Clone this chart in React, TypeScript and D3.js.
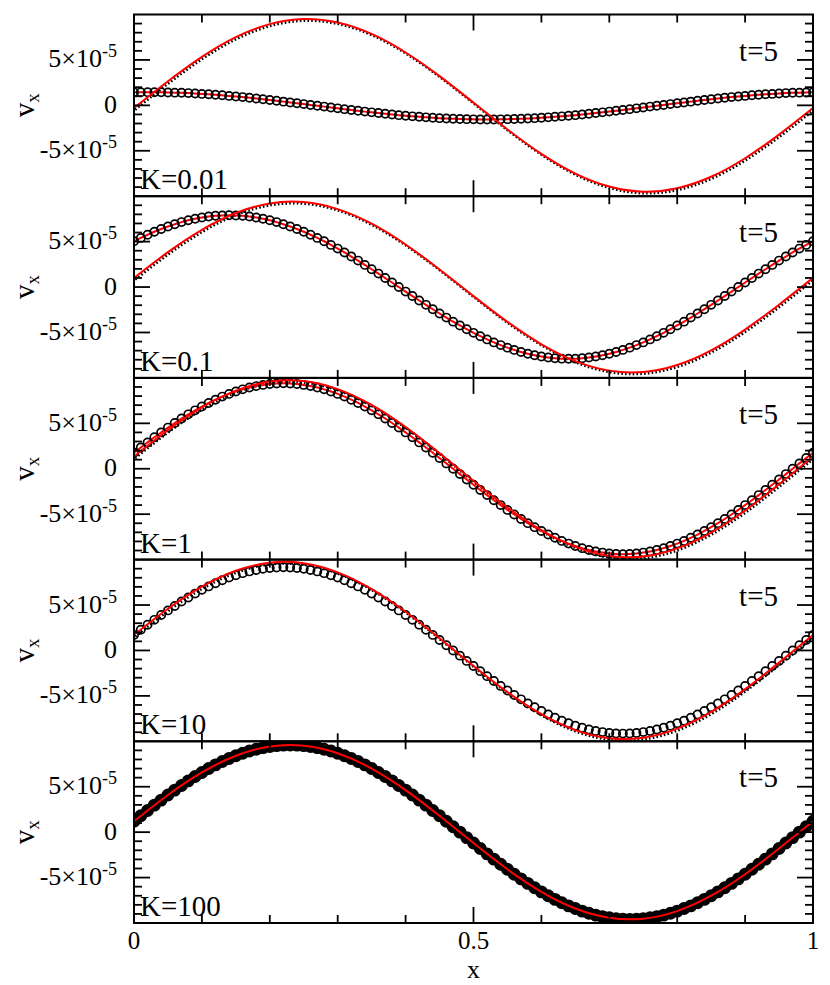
import React from "react";
import * as d3 from "d3";

// values of v_x in units of 1e-5, sampled along x
const xSamples = d3.range(101).map(i => i / 100);
const xRefSamples = d3.range(21).map(i => i / 20);

const kLabels = ["K=0.01", "K=0.1", "K=1", "K=10", "K=100"];
const timeLabel = "t=5";

const circlesK001 = [
  1.44, 1.45, 1.45, 1.45, 1.44, 1.42, 1.40, 1.38, 1.35, 1.31,
  1.26, 1.22, 1.16, 1.11, 1.04, 0.98, 0.91, 0.83, 0.75, 0.67,
  0.59, 0.50, 0.41, 0.32, 0.23, 0.14, 0.04, -0.05, -0.14, -0.24,
  -0.33, -0.42, -0.51, -0.60, -0.69, -0.77, -0.85, -0.93, -1.01, -1.08,
  -1.14, -1.21, -1.26, -1.32, -1.36, -1.41, -1.45, -1.48, -1.50, -1.52,
  -1.54, -1.55, -1.55, -1.55, -1.54, -1.52, -1.50, -1.48, -1.45, -1.41,
  -1.36, -1.32, -1.26, -1.21, -1.14, -1.08, -1.01, -0.93, -0.85, -0.77,
  -0.69, -0.60, -0.51, -0.42, -0.33, -0.24, -0.14, -0.05, 0.04, 0.14,
  0.23, 0.32, 0.41, 0.50, 0.59, 0.67, 0.75, 0.83, 0.91, 0.98,
  1.04, 1.11, 1.16, 1.22, 1.26, 1.31, 1.35, 1.38, 1.40, 1.42,
  1.44,
];
const circlesK01 = [
  5.04, 5.41, 5.76, 6.09, 6.39, 6.67, 6.92, 7.15, 7.35, 7.51,
  7.65, 7.76, 7.84, 7.88, 7.90, 7.88, 7.84, 7.76, 7.65, 7.51,
  7.35, 7.15, 6.92, 6.67, 6.39, 6.09, 5.76, 5.41, 5.04, 4.64,
  4.23, 3.81, 3.36, 2.91, 2.44, 1.96, 1.48, 0.99, 0.50, 0,
  -0.50, -0.99, -1.48, -1.96, -2.44, -2.91, -3.36, -3.81, -4.23, -4.64,
  -5.04, -5.41, -5.76, -6.09, -6.39, -6.67, -6.92, -7.15, -7.35, -7.51,
  -7.65, -7.76, -7.84, -7.88, -7.90, -7.88, -7.84, -7.76, -7.65, -7.51,
  -7.35, -7.15, -6.92, -6.67, -6.39, -6.09, -5.76, -5.41, -5.04, -4.64,
  -4.23, -3.81, -3.36, -2.91, -2.44, -1.96, -1.48, -0.99, -0.50, 0,
  0.50, 0.99, 1.48, 1.96, 2.44, 2.91, 3.36, 3.81, 4.23, 4.64,
  5.04,
];
const circlesK1 = [
  1.76, 2.34, 2.90, 3.46, 4.00, 4.53, 5.04, 5.53, 5.99, 6.43,
  6.85, 7.24, 7.60, 7.94, 8.24, 8.51, 8.74, 8.94, 9.10, 9.23,
  9.33, 9.38, 9.40, 9.38, 9.33, 9.23, 9.10, 8.94, 8.74, 8.51,
  8.24, 7.94, 7.60, 7.24, 6.85, 6.43, 5.99, 5.53, 5.04, 4.53,
  4.00, 3.46, 2.90, 2.34, 1.76, 1.18, 0.59, 0, -0.59, -1.18,
  -1.76, -2.34, -2.90, -3.46, -4.00, -4.53, -5.04, -5.53, -5.99, -6.43,
  -6.85, -7.24, -7.60, -7.94, -8.24, -8.51, -8.74, -8.94, -9.10, -9.23,
  -9.33, -9.38, -9.40, -9.38, -9.33, -9.23, -9.10, -8.94, -8.74, -8.51,
  -8.24, -7.94, -7.60, -7.24, -6.85, -6.43, -5.99, -5.53, -5.04, -4.53,
  -4.00, -3.46, -2.90, -2.34, -1.76, -1.18, -0.59, 0, 0.59, 1.18,
  1.76,
];
const circlesK10 = [
  1.71, 2.28, 2.83, 3.37, 3.90, 4.41, 4.90, 5.38, 5.83, 6.26,
  6.67, 7.05, 7.40, 7.73, 8.02, 8.28, 8.51, 8.70, 8.86, 8.99,
  9.08, 9.13, 9.15, 9.13, 9.08, 8.99, 8.86, 8.70, 8.51, 8.28,
  8.02, 7.73, 7.40, 7.05, 6.67, 6.26, 5.83, 5.38, 4.90, 4.41,
  3.90, 3.37, 2.83, 2.28, 1.71, 1.15, 0.57, 0, -0.57, -1.15,
  -1.71, -2.28, -2.83, -3.37, -3.90, -4.41, -4.90, -5.38, -5.83, -6.26,
  -6.67, -7.05, -7.40, -7.73, -8.02, -8.28, -8.51, -8.70, -8.86, -8.99,
  -9.08, -9.13, -9.15, -9.13, -9.08, -8.99, -8.86, -8.70, -8.51, -8.28,
  -8.02, -7.73, -7.40, -7.05, -6.67, -6.26, -5.83, -5.38, -4.90, -4.41,
  -3.90, -3.37, -2.83, -2.28, -1.71, -1.15, -0.57, 0, 0.57, 1.15,
  1.71,
];
const circlesK100 = [
  1.20, 1.80, 2.39, 2.97, 3.53, 4.09, 4.63, 5.14, 5.64, 6.12,
  6.57, 7.00, 7.40, 7.77, 8.11, 8.41, 8.69, 8.93, 9.13, 9.30,
  9.43, 9.52, 9.58, 9.60, 9.58, 9.52, 9.43, 9.30, 9.13, 8.93,
  8.69, 8.41, 8.11, 7.77, 7.40, 7.00, 6.57, 6.12, 5.64, 5.14,
  4.63, 4.09, 3.53, 2.97, 2.39, 1.80, 1.20, 0.60, 0, -0.60,
  -1.20, -1.80, -2.39, -2.97, -3.53, -4.09, -4.63, -5.14, -5.64, -6.12,
  -6.57, -7.00, -7.40, -7.77, -8.11, -8.41, -8.69, -8.93, -9.13, -9.30,
  -9.43, -9.52, -9.58, -9.60, -9.58, -9.52, -9.43, -9.30, -9.13, -8.93,
  -8.69, -8.41, -8.11, -7.77, -7.40, -7.00, -6.57, -6.12, -5.64, -5.14,
  -4.63, -4.09, -3.53, -2.97, -2.39, -1.80, -1.20, -0.60, 0, 0.60,
  1.20,
];

// reference curves (red over black dots), every 0.05 in x
const refK001 = [-0.30, 2.65, 5.34, 7.51, 8.94, 9.50, 9.12, 7.86, 5.82, 3.22, 0.30, -2.65, -5.34, -7.51, -8.94, -9.50, -9.12, -7.86, -5.82, -3.22, -0.30];
const refK01 = [1.00, 3.84, 6.30, 8.15, 9.20, 9.35, 8.58, 6.97, 4.68, 1.94, -1.00, -3.84, -6.30, -8.15, -9.20, -9.35, -8.58, -6.97, -4.68, -1.94, 1.00];
const refK1 = [1.34, 4.26, 6.76, 8.60, 9.60, 9.66, 8.77, 7.02, 4.59, 1.71, -1.34, -4.26, -6.76, -8.60, -9.60, -9.66, -8.77, -7.02, -4.59, -1.71, 1.34];
const refK10 = [1.71, 4.59, 7.02, 8.77, 9.66, 9.60, 8.60, 6.76, 4.26, 1.34, -1.71, -4.59, -7.02, -8.77, -9.66, -9.60, -8.60, -6.76, -4.26, -1.34, 1.71];
const refK100 = [1.20, 4.09, 6.57, 8.41, 9.43, 9.52, 8.69, 7.00, 4.63, 1.80, -1.20, -4.09, -6.57, -8.41, -9.43, -9.52, -8.69, -7.00, -4.63, -1.80, 1.20];

const circleSeries = [circlesK001, circlesK01, circlesK1, circlesK10, circlesK100];
const refSeries = [refK001, refK01, refK1, refK10, refK100];
const showFitLine = [true, true, true, false, false];

const xTicks = [0, 0.5, 1];
const xTickText = ["0", "0.5", "1"];
const yTicks = [5, 0, -5];
const yTickText = ["5×10", "0", "-5×10"];
const yTickExp = ["-5", "", "-5"];

const W = 830, H = 985;
const left = 134, right = 813, top = 14.5, panelH = 181.7;
const serif = { fontFamily: '"Liberation Serif"' };

const x = d3.scaleLinear().domain([0, 1]).range([left, right]);

const Panel = ({ i }: { i: number }) => {
  const y0 = top + i * panelH;
  const y = d3.scaleLinear().domain([-10, 10]).range([y0 + panelH, y0]);
  const circ = circleSeries[i].map((v, j) => [xSamples[j], v] as [number, number]);
  const ref = refSeries[i].map((v, j) => [xRefSamples[j], v] as [number, number]);
  const line = d3.line<[number, number]>().x(d => x(d[0])).y(d => y(d[1])).curve(d3.curveNatural);
  const minorX = d3.range(0, 11).map(k => k / 10);
  const minorY = d3.range(-9, 10);
  const big = i === 4;
  return (
    <g>
      <defs>
        <clipPath id={`clip${i}`}>
          <rect x={left} y={y0} width={right - left} height={panelH} />
        </clipPath>
      </defs>
      <g clipPath={`url(#clip${i})`}>
        <path d={line(ref) || ""} fill="none" stroke="#000" strokeWidth={2.6}
          strokeDasharray="1.6 2.2" transform="translate(1.2,1.6)" />
        {showFitLine[i] && <path d={line(circ) || ""} fill="none" stroke="red" strokeWidth={2} />}
        {circ.map((d, j) => (
          <circle key={j} cx={x(d[0])} cy={y(d[1])} r={big ? 5.6 : 4.1}
            fill={big ? "#000" : "none"} stroke="#000" strokeWidth={1.7} />
        ))}
        <path d={line(ref) || ""} fill="none" stroke="red" strokeWidth={2} />
      </g>
      <rect x={left} y={y0} width={right - left} height={panelH} fill="none" stroke="#000" strokeWidth={2} />
      {minorX.map(t => {
        const len = xTicks.includes(t) ? 16 : 8;
        return (
          <g key={"x" + t}>
            <line x1={x(t)} x2={x(t)} y1={y0 + panelH} y2={y0 + panelH - len} stroke="#000" strokeWidth={1.8} />
            <line x1={x(t)} x2={x(t)} y1={y0} y2={y0 + len} stroke="#000" strokeWidth={1.8} />
          </g>
        );
      })}
      {minorY.map(t => {
        const len = yTicks.includes(t) ? 16 : 8;
        return (
          <g key={"y" + t}>
            <line x1={left} x2={left + len} y1={y(t)} y2={y(t)} stroke="#000" strokeWidth={1.8} />
            <line x1={right} x2={right - len} y1={y(t)} y2={y(t)} stroke="#000" strokeWidth={1.8} />
          </g>
        );
      })}
      {yTicks.map((t, k) => (
        <text key={"yl" + t} x={117} y={y(t) + 7.5} textAnchor="end" style={serif} fontSize={26}>
          {yTickText[k]}
          {yTickExp[k] && <tspan fontSize={18} dy={-10}>{yTickExp[k]}</tspan>}
        </text>
      ))}
      <text transform={`translate(34,${y(0)}) rotate(-90)`} textAnchor="middle" style={serif} fontSize={29}>
        v<tspan fontSize={19} dy={5}>x</tspan>
      </text>
      <text x={140} y={y0 + panelH - 7} style={serif} fontSize={29}>{kLabels[i]}</text>
      <text x={778} y={y0 + 46} textAnchor="end" style={serif} fontSize={29}>{timeLabel}</text>
    </g>
  );
};

export default function App() {
  const bottom = top + 5 * panelH;
  return (
    <div style={{ position: "absolute", left: 0, top: 0 }}>
      <svg width={W} height={H} style={{ display: "block", background: "#fff" }}>
        {kLabels.map((_, i) => <Panel key={i} i={i} />)}
        {xTicks.map((t, k) => (
          <text key={t} x={x(t)} y={bottom + 26} textAnchor="middle" style={serif} fontSize={25}>{xTickText[k]}</text>
        ))}
        <text x={x(0.5)} y={bottom + 55} textAnchor="middle" style={serif} fontSize={26}>x</text>
      </svg>
    </div>
  );
}
